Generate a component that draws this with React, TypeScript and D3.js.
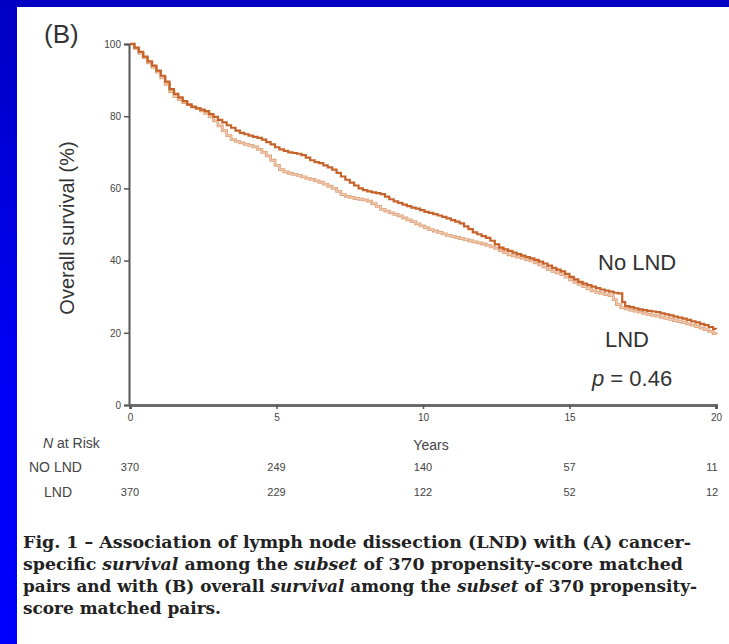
import React, { useRef, useEffect } from "react";
import * as d3 from "d3";

// Kaplan-Meier steps: [years, survival %]
const noLndSteps: [number, number][] = [
  [0, 100], [0.15, 99], [0.3, 97.8], [0.45, 96.5], [0.6, 95.2], [0.75, 94], [0.9, 92.6],
  [1.05, 91.2], [1.2, 89.6], [1.35, 87.5], [1.5, 86.2], [1.65, 85.2], [1.8, 84.2],
  [1.95, 83.2], [2.1, 82.6], [2.25, 82.2], [2.4, 81.8], [2.55, 81.4], [2.7, 80.6],
  [2.85, 79.8], [3.0, 79], [3.15, 78.3], [3.3, 77.5], [3.45, 76.8], [3.6, 76], [3.75, 75.4],
  [3.9, 75], [4.05, 74.6], [4.2, 74.3], [4.35, 74], [4.5, 73.5], [4.65, 72.8], [4.8, 72.2],
  [4.95, 71.4], [5.1, 70.8], [5.25, 70.4], [5.4, 70], [5.55, 69.8], [5.7, 69.6], [5.85, 69.2],
  [6.0, 68.5], [6.15, 67.8], [6.3, 67.3], [6.45, 67], [6.6, 66.4], [6.75, 65.8], [6.9, 65.2],
  [7.05, 64.3], [7.2, 63.3], [7.35, 62.4], [7.5, 61.6], [7.65, 60.8], [7.8, 60], [7.95, 59.5],
  [8.1, 59.2], [8.25, 58.9], [8.4, 58.7], [8.55, 58.4], [8.7, 57.7], [8.85, 57], [9.0, 56.4],
  [9.15, 56], [9.3, 55.5], [9.45, 55.1], [9.6, 54.7], [9.75, 54.4], [9.9, 54], [10.05, 53.5],
  [10.2, 53.2], [10.35, 52.9], [10.5, 52.5], [10.65, 52.1], [10.8, 51.7], [10.95, 51.2],
  [11.1, 50.8], [11.25, 50.3], [11.4, 49.5], [11.55, 48.7], [11.7, 47.8], [11.85, 47.3],
  [12.0, 46.8], [12.15, 46.3], [12.3, 45.5], [12.45, 44.5], [12.6, 43.6], [12.75, 43.1],
  [12.9, 42.7], [13.05, 42.2], [13.2, 41.8], [13.35, 41.4], [13.5, 41], [13.65, 40.6],
  [13.8, 40.2], [13.95, 39.7], [14.1, 39.2], [14.25, 38.6], [14.4, 38], [14.55, 37.5],
  [14.7, 37], [14.85, 36.3], [15.0, 35.5], [15.15, 34.8], [15.3, 34.1], [15.45, 33.6],
  [15.6, 33.2], [15.75, 32.8], [15.9, 32.4], [16.05, 32], [16.2, 31.7], [16.35, 31.4],
  [16.5, 31.1], [16.65, 30.9], [16.8, 28.5], [16.9, 27.4], [17.05, 27.1], [17.2, 26.8],
  [17.35, 26.5], [17.5, 26.3], [17.65, 26.1], [17.8, 25.9], [17.95, 25.7], [18.1, 25.4],
  [18.25, 25.1], [18.4, 24.8], [18.55, 24.5], [18.7, 24.2], [18.85, 23.9], [19.0, 23.6],
  [19.15, 23.2], [19.3, 22.9], [19.45, 22.5], [19.6, 22.1], [19.75, 21.6], [19.9, 21.1],
  [20, 21],
];

const lndSteps: [number, number][] = [
  [0, 100], [0.15, 98.8], [0.3, 97.4], [0.45, 96.2], [0.6, 94.8], [0.75, 93.5], [0.9, 92.2],
  [1.05, 90.6], [1.2, 88.8], [1.35, 86.8], [1.5, 85.4], [1.65, 84.6], [1.8, 83.8],
  [1.95, 83.2], [2.1, 82.6], [2.25, 82.1], [2.4, 81.5], [2.55, 80.8], [2.7, 79.8],
  [2.85, 78.7], [3.0, 77.3], [3.15, 76], [3.3, 74.6], [3.45, 73.5], [3.6, 73], [3.75, 72.6],
  [3.9, 72.2], [4.05, 71.9], [4.2, 71.5], [4.35, 70.8], [4.5, 70], [4.65, 69], [4.8, 67.8],
  [4.95, 66.4], [5.1, 65.2], [5.25, 64.6], [5.4, 64.2], [5.55, 63.9], [5.7, 63.6],
  [5.85, 63.2], [6.0, 62.8], [6.15, 62.5], [6.3, 62.1], [6.45, 61.7], [6.6, 61.2],
  [6.75, 60.6], [6.9, 60], [7.05, 59.2], [7.2, 58.3], [7.35, 57.8], [7.5, 57.5], [7.65, 57.2],
  [7.8, 57], [7.95, 56.8], [8.1, 56.5], [8.25, 55.8], [8.4, 55], [8.55, 54.2], [8.7, 53.7],
  [8.85, 53.2], [9.0, 52.8], [9.15, 52.4], [9.3, 51.8], [9.45, 51.3], [9.6, 50.8],
  [9.75, 50.2], [9.9, 49.6], [10.05, 49.1], [10.2, 48.6], [10.35, 48.2], [10.5, 47.8],
  [10.65, 47.4], [10.8, 47], [10.95, 46.7], [11.1, 46.4], [11.25, 46.1], [11.4, 45.8],
  [11.55, 45.5], [11.7, 45.2], [11.85, 44.9], [12.0, 44.6], [12.15, 44.2], [12.3, 43.8],
  [12.45, 43.4], [12.6, 42.8], [12.75, 42.2], [12.9, 41.6], [13.05, 41.3], [13.2, 41],
  [13.35, 40.7], [13.5, 40.3], [13.65, 39.9], [13.8, 39.4], [13.95, 38.8], [14.1, 38.2],
  [14.25, 37.5], [14.4, 37], [14.55, 36.6], [14.7, 36.1], [14.85, 35.4], [15.0, 34.7],
  [15.15, 34], [15.3, 33.4], [15.45, 32.8], [15.6, 32.2], [15.75, 31.6], [15.9, 31.2],
  [16.05, 30.9], [16.2, 30.6], [16.35, 30.3], [16.5, 29.2], [16.6, 27.8], [16.75, 27],
  [16.9, 26.6], [17.05, 26.3], [17.2, 26], [17.35, 25.7], [17.5, 25.4], [17.65, 25.1],
  [17.8, 24.8], [17.95, 24.6], [18.1, 24.3], [18.25, 24], [18.4, 23.7], [18.55, 23.4],
  [18.7, 23.1], [18.85, 22.8], [19.0, 22.5], [19.15, 22.1], [19.3, 21.7], [19.45, 21.3],
  [19.6, 20.9], [19.75, 20.4], [19.9, 19.8], [20, 19.5],
];

const xTicks = [0, 5, 10, 15, 20];
const yTicks = [0, 20, 40, 60, 80, 100];
const riskNoLnd = [370, 249, 140, 57, 11];
const riskLnd = [370, 229, 122, 52, 12];

const captionLines = [
  { parts: [["Fig. 1 – Association of lymph node dissection (LND) with (A) cancer-", false]], len: 668 },
  {
    parts: [
      ["specific ", false], ["survival", true], [" among the ", false], ["subset", true],
      [" of 370 propensity-score matched", false],
    ],
    len: 660,
  },
  {
    parts: [
      ["pairs and with (B) overall ", false], ["survival", true], [" among the ", false],
      ["subset", true], [" of 370 propensity-", false],
    ],
    len: 674,
  },
  { parts: [["score matched pairs.", false]], len: 198 },
];

const width = 729;
const height = 644;

export default function App() {
  const gx = useRef<SVGGElement>(null);
  const gy = useRef<SVGGElement>(null);

  const x = d3.scaleLinear().domain([0, 20]).range([130, 716]);
  const y = d3.scaleLinear().domain([0, 100]).range([405, 44]);

  const line = d3
    .line<[number, number]>()
    .x((d) => x(d[0]))
    .y((d) => y(d[1]))
    .curve(d3.curveStepAfter);

  useEffect(() => {
    const ax = d3.select(gx.current!);
    ax.call(d3.axisBottom(x).tickValues(xTicks).tickSize(4).tickPadding(5));
    ax.select(".domain").attr("stroke", "#6a6a6a").attr("stroke-width", 3);
    ax.selectAll(".tick line").attr("stroke", "#555").attr("stroke-width", 1.5);
    ax.selectAll(".tick text")
      .attr("font-family", "Liberation Sans, Arial, sans-serif")
      .attr("font-size", 10)
      .attr("fill", "#444");

    const ay = d3.select(gy.current!);
    ay.call(d3.axisLeft(y).tickValues(yTicks).tickSize(5).tickPadding(3));
    ay.select(".domain").attr("stroke", "#555").attr("stroke-width", 2);
    ay.selectAll(".tick line").attr("stroke", "#555").attr("stroke-width", 1.5);
    ay.selectAll(".tick text")
      .attr("font-family", "Liberation Sans, Arial, sans-serif")
      .attr("font-size", 10)
      .attr("fill", "#444");
  }, []);

  const sans = "Liberation Sans, Arial, sans-serif";

  return (
    <svg
      width={width}
      height={height}
      style={{ position: "absolute", left: 0, top: 0 }}
    >
      <defs>
        <linearGradient id="bg" x1="0" y1="0" x2="0" y2="1">
          <stop offset="0" stopColor="#0000c4" />
          <stop offset="0.55" stopColor="#0000f4" />
          <stop offset="1" stopColor="#0000ff" />
        </linearGradient>
      </defs>
      <rect width={width} height={height} fill="url(#bg)" />
      <rect x={17} y={7} width={width - 17} height={height - 7} fill="#fff" />

      <text x={44} y={43} fontFamily={sans} fontSize={26} fill="#333">
        (B)
      </text>

      <text
        transform={`translate(74,228) rotate(-90)`}
        textAnchor="middle"
        fontFamily={sans}
        fontSize={20}
        fill="#333"
      >
        Overall survival (%)
      </text>

      <g ref={gy} transform={`translate(${x(0) - 1},0)`} />
      <g ref={gx} transform={`translate(0,${y(0)})`} />

      <path d={line(lndSteps) ?? ""} fill="none" stroke="#e1a47c" strokeWidth={2.8} />
      <path d={line(lndSteps) ?? ""} fill="none" stroke="#f7e0d0" strokeWidth={0.7} />
      <path d={line(noLndSteps) ?? ""} fill="none" stroke="#c6632b" strokeWidth={2.2} />

      <text x={598} y={270} fontFamily={sans} fontSize={22} fill="#333">
        No LND
      </text>
      <text x={605} y={347} fontFamily={sans} fontSize={22} fill="#333">
        LND
      </text>
      <text x={592} y={386} fontFamily={sans} fontSize={22} fill="#333">
        <tspan fontStyle="italic">p</tspan> = 0.46
      </text>

      <text x={x(10) + 8} y={450} textAnchor="middle" fontFamily={sans} fontSize={14} fill="#444">
        Years
      </text>
      <text x={43} y={448} fontFamily={sans} fontSize={14} fill="#444">
        <tspan fontStyle="italic">N</tspan> at Risk
      </text>
      <text x={29} y={472} fontFamily={sans} fontSize={14} fill="#444">
        NO LND
      </text>
      <text x={44} y={497} fontFamily={sans} fontSize={14} fill="#444">
        LND
      </text>
      <g fontFamily={sans} fontSize={11} fill="#444" textAnchor="middle">
        {riskNoLnd.map((d, i) => (
          <text key={"n" + i} x={x(xTicks[i]) + (i === 4 ? -4 : 0)} y={471}>
            {d}
          </text>
        ))}
        {riskLnd.map((d, i) => (
          <text key={"l" + i} x={x(xTicks[i]) + (i === 4 ? -4 : 0)} y={496}>
            {d}
          </text>
        ))}
      </g>

      <g fontFamily="DejaVu Serif, serif" fontWeight="bold" fontSize={16} fill="#222">
        {captionLines.map((ln, i) => (
          <text
            key={i}
            x={23}
            y={548 + i * 22}
            textLength={ln.len}
            lengthAdjust="spacingAndGlyphs"
          >
            {ln.parts.map(([t, it], j) => (
              <tspan key={j} fontStyle={it ? "italic" : "normal"}>
                {t as string}
              </tspan>
            ))}
          </text>
        ))}
      </g>
    </svg>
  );
}
